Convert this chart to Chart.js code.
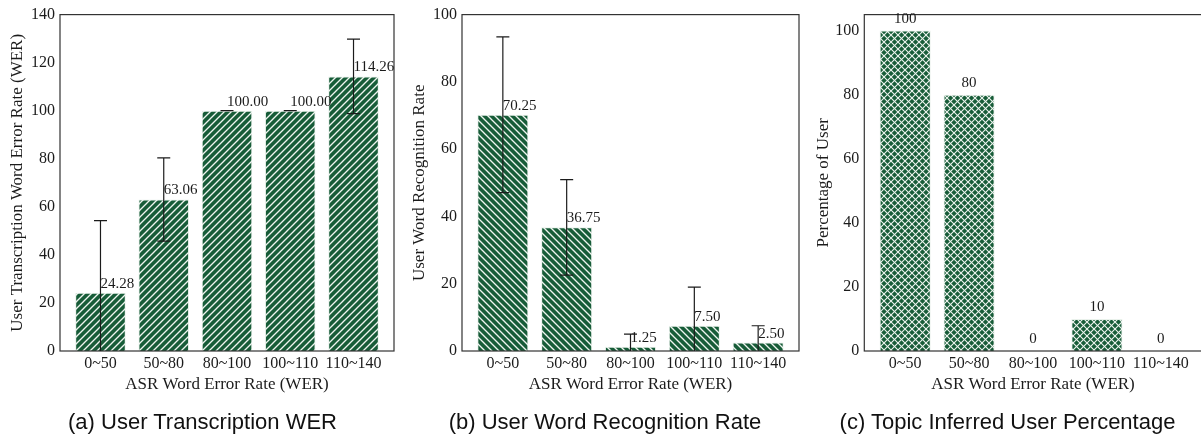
<!DOCTYPE html>
<html>
<head>
<meta charset="utf-8">
<script src="https://cdn.jsdelivr.net/npm/chart.js@4.4.1/dist/chart.umd.min.js"></script>
<style>
  html, body { margin: 0; padding: 0; background: #fff; width: 1201px; height: 439px; overflow: hidden; }
  .panel { position: absolute; top: 0; height: 439px; }
  canvas { display: block; }
  .caption {
    position: absolute; top: 411px; line-height: 22px; white-space: nowrap;
    font-family: "Liberation Sans", Arial, sans-serif; font-size: 22px; color: #111;
    transform: translateX(-50%);
  }
</style>
</head>
<body>
<div class="panel" style="left:0;width:400px"><canvas id="chartA" width="400" height="439"></canvas></div>
<div class="panel" style="left:400px;width:400px"><canvas id="chartB" width="400" height="439"></canvas></div>
<div class="panel" style="left:800px;width:410px"><canvas id="chartC" width="410" height="439"></canvas></div>
<div class="caption" style="left:202.5px">(a) User Transcription WER</div>
<div class="caption" style="left:605px">(b) User Word Recognition Rate</div>
<div class="caption" style="left:1007.5px">(c) Topic Inferred User Percentage</div>

<script>
// ASR word-error-rate buckets shared by all three panels
const categories = ['0~50', '50~80', '80~100', '100~110', '110~140'];

// (a) user transcription WER, mean and standard deviation per bucket
const transcriptionWer = [24.28, 63.06, 100.00, 100.00, 114.26];
const transcriptionWerStd = [30.0, 17.3, 0, 0, 15.5];

// (b) user word recognition rate, mean and standard deviation per bucket
const recognitionRate = [70.25, 36.75, 1.25, 7.50, 2.50];
const recognitionRateStd = [23.15, 14.2, 3.75, 11.5, 5.0];

// (c) share of users whose topic was inferred
const inferredPercent = [100, 80, 0, 10, 0];

// y-axis tick values
const ticksA = [0, 20, 40, 60, 80, 100, 120, 140];
const ticksB = [0, 20, 40, 60, 80, 100];
const ticksC = [0, 20, 40, 60, 80, 100];

const GREEN = '#175c38';
const HATCH = '#eef4ef';
const INK = '#1b1b1b';
const SERIF = '"Liberation Serif", "DejaVu Serif", serif';

// hatch fills: '/' diagonal, '\' diagonal, 'x' cross
function hatch(kind) {
  const s = 7;
  const c = document.createElement('canvas');
  c.width = s; c.height = s;
  const g = c.getContext('2d');
  g.fillStyle = GREEN;
  g.fillRect(0, 0, s, s);
  g.strokeStyle = HATCH;
  g.lineWidth = kind === 'x' ? 1.1 : 1.35;
  const fwd = () => {
    g.beginPath();
    g.moveTo(-1, s + 1); g.lineTo(s + 1, -1);
    g.moveTo(-1, 1); g.lineTo(1, -1);
    g.moveTo(s - 1, s + 1); g.lineTo(s + 1, s - 1);
    g.stroke();
  };
  const back = () => {
    g.beginPath();
    g.moveTo(-1, -1); g.lineTo(s + 1, s + 1);
    g.moveTo(s - 1, -1); g.lineTo(s + 1, 1);
    g.moveTo(-1, s - 1); g.lineTo(1, s + 1);
    g.stroke();
  };
  if (kind === '/' || kind === 'x') fwd();
  if (kind === '\\' || kind === 'x') back();
  return g.createPattern(c, 'repeat');
}

// box around the plotting area
const framePlugin = {
  id: 'frame',
  afterDatasetsDraw(chart) {
    const { ctx, chartArea: a } = chart;
    ctx.save();
    ctx.strokeStyle = '#333';
    ctx.lineWidth = 1.2;
    ctx.strokeRect(a.left, a.top, a.right - a.left, a.bottom - a.top);
    ctx.restore();
  }
};

// symmetric error bars with caps, clipped to the plotting area
const errorBarPlugin = {
  id: 'errorBars',
  afterDatasetsDraw(chart, args, opts) {
    if (!opts.errors) return;
    const { ctx, chartArea: a } = chart;
    const y = chart.scales.y;
    const ds = chart.data.datasets[0];
    const meta = chart.getDatasetMeta(0);
    ctx.save();
    ctx.beginPath();
    ctx.rect(a.left, a.top, a.right - a.left, a.bottom - a.top);
    ctx.clip();
    ctx.strokeStyle = INK;
    ctx.lineWidth = 1.2;
    const cap = 6.5;
    meta.data.forEach((bar, i) => {
      const v = ds.data[i].y, e = opts.errors[i];
      const top = y.getPixelForValue(v + e);
      const bot = y.getPixelForValue(v - e);
      const x = bar.x;
      ctx.beginPath();
      ctx.moveTo(x, top); ctx.lineTo(x, bot);
      ctx.moveTo(x - cap, top); ctx.lineTo(x + cap, top);
      ctx.moveTo(x - cap, bot); ctx.lineTo(x + cap, bot);
      ctx.stroke();
    });
    ctx.restore();
  }
};

// value annotations above each bar
const valueLabelPlugin = {
  id: 'valueLabels',
  afterDatasetsDraw(chart, args, opts) {
    const { ctx } = chart;
    const y = chart.scales.y;
    const ds = chart.data.datasets[0];
    const meta = chart.getDatasetMeta(0);
    ctx.save();
    ctx.font = `15px ${SERIF}`;
    ctx.fillStyle = INK;
    ctx.textAlign = opts.align;
    ctx.textBaseline = 'alphabetic';
    meta.data.forEach((bar, i) => {
      const v = ds.data[i].y;
      ctx.fillText(v.toFixed(opts.decimals), bar.x, y.getPixelForValue(v) - opts.gap);
    });
    ctx.restore();
  }
};

function makePanel(id, cfg) {
  const font = { family: SERIF, size: 16 };
  const titleFont = { family: SERIF, size: 17 };
  return new Chart(document.getElementById(id), {
    type: 'bar',
    data: {
      datasets: [{
        data: cfg.values.map((v, i) => ({ x: i, y: v })),
        backgroundColor: hatch(cfg.hatch),
        borderColor: 'rgba(225,236,228,0.75)',
        borderWidth: 1,
        categoryPercentage: 0.8,
        barPercentage: 1.0
      }]
    },
    plugins: [framePlugin, errorBarPlugin, valueLabelPlugin],
    options: {
      responsive: false,
      animation: false,
      events: [],
      layout: { padding: cfg.padding },
      plugins: {
        legend: { display: false },
        tooltip: { enabled: false },
        errorBars: { errors: cfg.errors },
        valueLabels: cfg.labels
      },
      scales: {
        x: {
          type: 'linear',
          min: -0.64,
          max: 4.64,
          offset: false,
          afterBuildTicks: s => { s.ticks = categories.map((_, i) => ({ value: i })); },
          afterFit: s => { s.height = 50; },
          grid: { display: false, drawTicks: false },
          border: { display: false },
          ticks: {
            callback: v => categories[v],
            autoSkip: false, maxRotation: 0, padding: 3,
            font, color: INK
          },
          title: {
            display: true, text: 'ASR Word Error Rate (WER)',
            font: titleFont, color: INK, padding: { top: 0, bottom: 6 }
          }
        },
        y: {
          min: 0,
          max: cfg.yMax,
          afterBuildTicks: s => { s.ticks = cfg.ticks.map(v => ({ value: v })); },
          afterFit: s => { s.width = cfg.yWidth; },
          grid: { display: false, drawTicks: false },
          border: { display: false },
          ticks: { padding: 5, font, color: INK },
          title: {
            display: true, text: cfg.yTitle,
            font: titleFont, color: INK, padding: { top: cfg.titlePad, bottom: 0 }
          }
        }
      }
    }
  });
}

makePanel('chartA', {
  values: transcriptionWer, errors: transcriptionWerStd, hatch: '/',
  ticks: ticksA, yMax: 140, yWidth: 60, titlePad: 7,
  yTitle: 'User Transcription Word Error Rate (WER)',
  padding: { left: 0, top: 10.5, right: 6, bottom: 38 },
  labels: { align: 'left', decimals: 2, gap: 5 }
});

makePanel('chartB', {
  values: recognitionRate, errors: recognitionRateStd, hatch: '\\',
  ticks: ticksB, yMax: 100, yWidth: 62, titlePad: 9,
  yTitle: 'User Word Recognition Rate',
  padding: { left: 0, top: 12, right: 1, bottom: 38 },
  labels: { align: 'left', decimals: 2, gap: 5 }
});

makePanel('chartC', {
  values: inferredPercent, errors: null, hatch: 'x',
  ticks: ticksC, yMax: 105, yWidth: 64.3, titlePad: 13,
  yTitle: 'Percentage of User',
  padding: { left: 0, top: 8.3, right: 8.3, bottom: 38 },
  labels: { align: 'center', decimals: 0, gap: 8 }
});
</script>
</body>
</html>
